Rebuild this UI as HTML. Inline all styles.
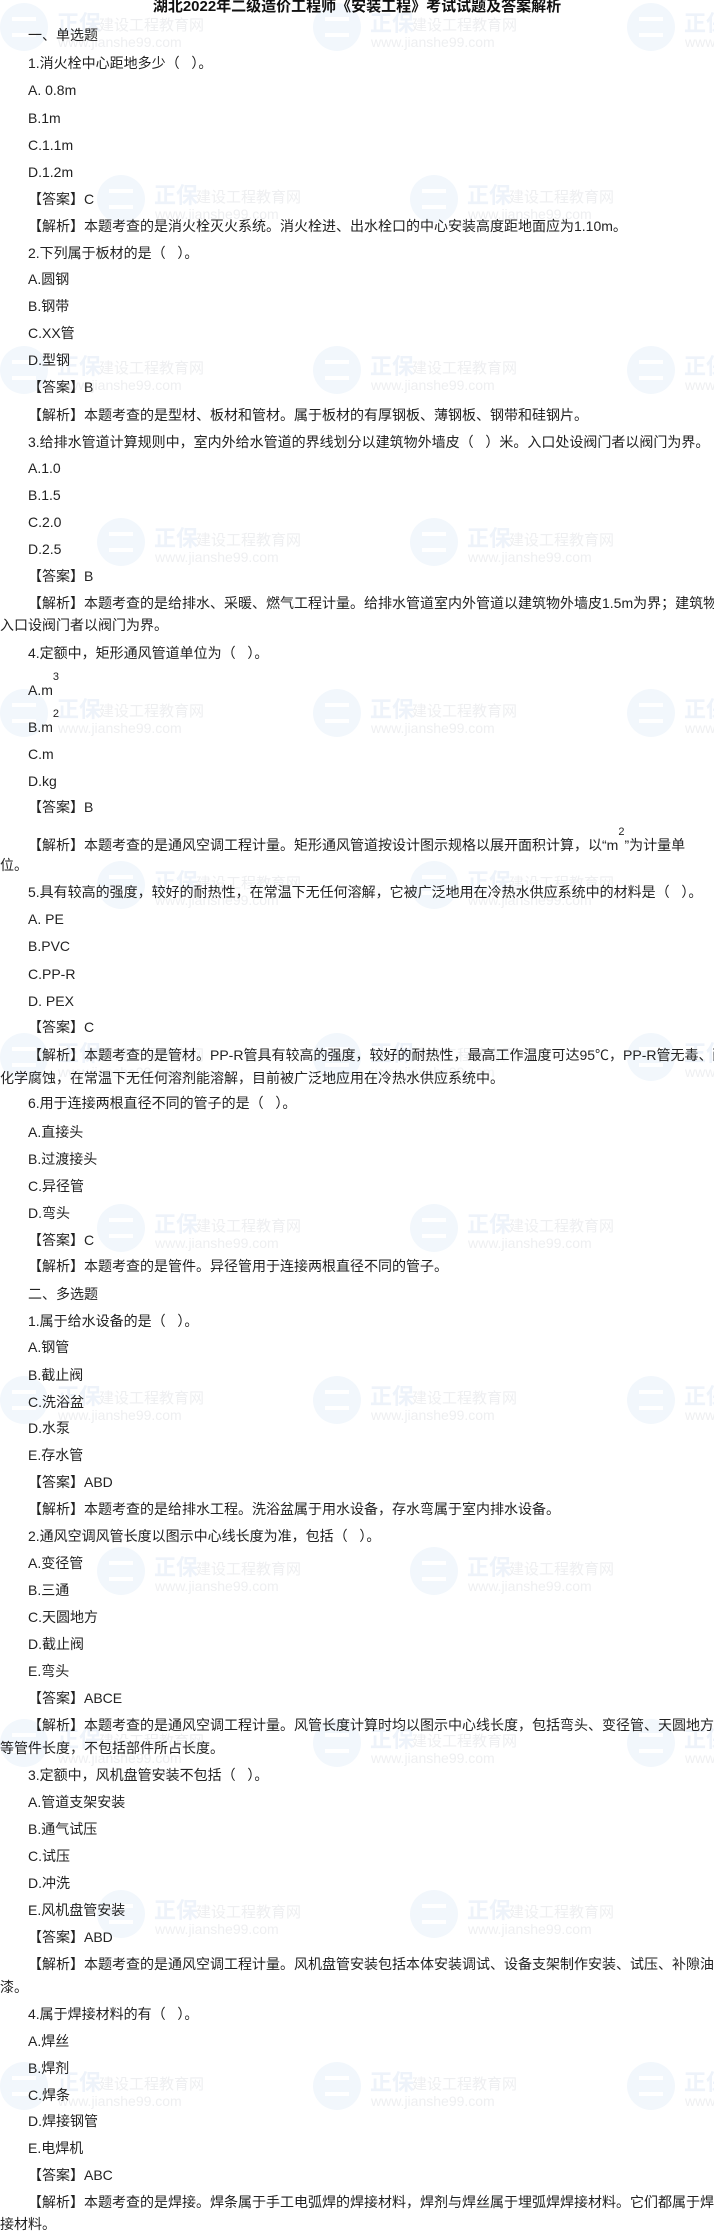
<!DOCTYPE html>
<html><head><meta charset="utf-8"><style>
html,body{margin:0;padding:0;background:#fff}
body{width:714px;height:2229px;position:relative;overflow:hidden;font-family:"Liberation Sans Narrow","Liberation Sans","Noto Sans CJK SC",sans-serif;color:#222}
.w{position:absolute;width:200px;height:50px}
.w i{position:absolute;left:0;top:0;width:48px;height:48px;border-radius:50%;background:#f2f7fc}
.w i:after{content:"";position:absolute;left:12px;top:14px;width:24px;height:20px;border-top:4px solid #fff;border-bottom:4px solid #fff;box-sizing:border-box}
.w b{position:absolute;left:57px;top:3px;font:bold 22px "Noto Sans CJK SC",sans-serif;color:#eef3fa;white-space:nowrap}
.w s{position:absolute;left:99px;top:11px;font:15px "Noto Sans CJK SC",sans-serif;color:#eeeff1;text-decoration:none;white-space:nowrap}
.w u{position:absolute;left:58px;top:31px;font:14px "Liberation Sans",sans-serif;color:#eeeff1;text-decoration:none;white-space:nowrap}
.l{position:absolute;left:28px;height:18px;line-height:18px;font-size:14px;white-space:nowrap;max-width:686px;overflow:hidden}
.c{left:0}
.t{position:absolute;left:0;width:714px;text-align:center;top:-2px;font:bold 15px "Liberation Sans","Noto Sans CJK SC",sans-serif;color:#111;line-height:18px}
sup{font-size:11px;position:relative;top:-4px;vertical-align:top;line-height:0}
</style></head><body>
<div class="w" style="left:0;top:3px"><i></i><b>正保</b><s>建设工程教育网</s><u>www.jianshe99.com</u></div>
<div class="w" style="left:313px;top:3px"><i></i><b>正保</b><s>建设工程教育网</s><u>www.jianshe99.com</u></div>
<div class="w" style="left:627px;top:3px"><i></i><b>正保</b><s>建设工程教育网</s><u>www.jianshe99.com</u></div>
<div class="w" style="left:97px;top:175px"><i></i><b>正保</b><s>建设工程教育网</s><u>www.jianshe99.com</u></div>
<div class="w" style="left:410px;top:175px"><i></i><b>正保</b><s>建设工程教育网</s><u>www.jianshe99.com</u></div>
<div class="w" style="left:0;top:346px"><i></i><b>正保</b><s>建设工程教育网</s><u>www.jianshe99.com</u></div>
<div class="w" style="left:313px;top:346px"><i></i><b>正保</b><s>建设工程教育网</s><u>www.jianshe99.com</u></div>
<div class="w" style="left:627px;top:346px"><i></i><b>正保</b><s>建设工程教育网</s><u>www.jianshe99.com</u></div>
<div class="w" style="left:97px;top:518px"><i></i><b>正保</b><s>建设工程教育网</s><u>www.jianshe99.com</u></div>
<div class="w" style="left:410px;top:518px"><i></i><b>正保</b><s>建设工程教育网</s><u>www.jianshe99.com</u></div>
<div class="w" style="left:0;top:689px"><i></i><b>正保</b><s>建设工程教育网</s><u>www.jianshe99.com</u></div>
<div class="w" style="left:313px;top:689px"><i></i><b>正保</b><s>建设工程教育网</s><u>www.jianshe99.com</u></div>
<div class="w" style="left:627px;top:689px"><i></i><b>正保</b><s>建设工程教育网</s><u>www.jianshe99.com</u></div>
<div class="w" style="left:97px;top:861px"><i></i><b>正保</b><s>建设工程教育网</s><u>www.jianshe99.com</u></div>
<div class="w" style="left:410px;top:861px"><i></i><b>正保</b><s>建设工程教育网</s><u>www.jianshe99.com</u></div>
<div class="w" style="left:0;top:1033px"><i></i><b>正保</b><s>建设工程教育网</s><u>www.jianshe99.com</u></div>
<div class="w" style="left:313px;top:1033px"><i></i><b>正保</b><s>建设工程教育网</s><u>www.jianshe99.com</u></div>
<div class="w" style="left:627px;top:1033px"><i></i><b>正保</b><s>建设工程教育网</s><u>www.jianshe99.com</u></div>
<div class="w" style="left:97px;top:1204px"><i></i><b>正保</b><s>建设工程教育网</s><u>www.jianshe99.com</u></div>
<div class="w" style="left:410px;top:1204px"><i></i><b>正保</b><s>建设工程教育网</s><u>www.jianshe99.com</u></div>
<div class="w" style="left:0;top:1376px"><i></i><b>正保</b><s>建设工程教育网</s><u>www.jianshe99.com</u></div>
<div class="w" style="left:313px;top:1376px"><i></i><b>正保</b><s>建设工程教育网</s><u>www.jianshe99.com</u></div>
<div class="w" style="left:627px;top:1376px"><i></i><b>正保</b><s>建设工程教育网</s><u>www.jianshe99.com</u></div>
<div class="w" style="left:97px;top:1547px"><i></i><b>正保</b><s>建设工程教育网</s><u>www.jianshe99.com</u></div>
<div class="w" style="left:410px;top:1547px"><i></i><b>正保</b><s>建设工程教育网</s><u>www.jianshe99.com</u></div>
<div class="w" style="left:0;top:1719px"><i></i><b>正保</b><s>建设工程教育网</s><u>www.jianshe99.com</u></div>
<div class="w" style="left:313px;top:1719px"><i></i><b>正保</b><s>建设工程教育网</s><u>www.jianshe99.com</u></div>
<div class="w" style="left:627px;top:1719px"><i></i><b>正保</b><s>建设工程教育网</s><u>www.jianshe99.com</u></div>
<div class="w" style="left:97px;top:1890px"><i></i><b>正保</b><s>建设工程教育网</s><u>www.jianshe99.com</u></div>
<div class="w" style="left:410px;top:1890px"><i></i><b>正保</b><s>建设工程教育网</s><u>www.jianshe99.com</u></div>
<div class="w" style="left:0;top:2062px"><i></i><b>正保</b><s>建设工程教育网</s><u>www.jianshe99.com</u></div>
<div class="w" style="left:313px;top:2062px"><i></i><b>正保</b><s>建设工程教育网</s><u>www.jianshe99.com</u></div>
<div class="w" style="left:627px;top:2062px"><i></i><b>正保</b><s>建设工程教育网</s><u>www.jianshe99.com</u></div>

<div class="t">湖北2022年二级造价工程师《安装工程》考试试题及答案解析</div>
<div class="l" style="top:26px">一、单选题</div>
<div class="l" style="top:54px">1.消火栓中心距地多少（&nbsp;&nbsp;&nbsp;）。</div>
<div class="l" style="top:81px">A. 0.8m</div>
<div class="l" style="top:109px">B.1m</div>
<div class="l" style="top:136px">C.1.1m</div>
<div class="l" style="top:163px">D.1.2m</div>
<div class="l" style="top:190px">【答案】C</div>
<div class="l" style="top:217px">【解析】本题考查的是消火栓灭火系统。消火栓进、出水栓口的中心安装高度距地面应为1.10m。</div>
<div class="l" style="top:244px">2.下列属于板材的是（&nbsp;&nbsp;&nbsp;）。</div>
<div class="l" style="top:270px">A.圆钢</div>
<div class="l" style="top:297px">B.钢带</div>
<div class="l" style="top:324px">C.XX管</div>
<div class="l" style="top:351px">D.型钢</div>
<div class="l" style="top:378px">【答案】B</div>
<div class="l" style="top:406px">【解析】本题考查的是型材、板材和管材。属于板材的有厚钢板、薄钢板、钢带和硅钢片。</div>
<div class="l" style="top:433px">3.给排水管道计算规则中，室内外给水管道的界线划分以建筑物外墙皮（&nbsp;&nbsp;&nbsp;）米。入口处设阀门者以阀门为界。</div>
<div class="l" style="top:459px">A.1.0</div>
<div class="l" style="top:486px">B.1.5</div>
<div class="l" style="top:513px">C.2.0</div>
<div class="l" style="top:540px">D.2.5</div>
<div class="l" style="top:567px">【答案】B</div>
<div class="l" style="top:594px">【解析】本题考查的是给排水、采暖、燃气工程计量。给排水管道室内外管道以建筑物外墙皮1.5m为界；建筑物</div>
<div class="l c" style="top:616px">入口设阀门者以阀门为界。</div>
<div class="l" style="top:644px">4.定额中，矩形通风管道单位为（&nbsp;&nbsp;&nbsp;）。</div>
<div class="l" style="top:681px;overflow:visible">A.m<sup>3</sup></div>
<div class="l" style="top:718px;overflow:visible">B.m<sup>2</sup></div>
<div class="l" style="top:745px">C.m</div>
<div class="l" style="top:772px">D.kg</div>
<div class="l" style="top:798px">【答案】B</div>
<div class="l" style="top:836px;overflow:visible">【解析】本题考查的是通风空调工程计量。矩形通风管道按设计图示规格以展开面积计算，以“m<sup>2</sup>”为计量单</div>
<div class="l c" style="top:856px">位。</div>
<div class="l" style="top:883px">5.具有较高的强度，较好的耐热性，在常温下无任何溶解，它被广泛地用在冷热水供应系统中的材料是（&nbsp;&nbsp;&nbsp;）。</div>
<div class="l" style="top:910px">A. PE</div>
<div class="l" style="top:937px">B.PVC</div>
<div class="l" style="top:965px">C.PP-R</div>
<div class="l" style="top:992px">D. PEX</div>
<div class="l" style="top:1018px">【答案】C</div>
<div class="l" style="top:1046px">【解析】本题考查的是管材。PP-R管具有较高的强度，较好的耐热性，最高工作温度可达95℃，PP-R管无毒、耐</div>
<div class="l c" style="top:1069px">化学腐蚀，在常温下无任何溶剂能溶解，目前被广泛地应用在冷热水供应系统中。</div>
<div class="l" style="top:1094px">6.用于连接两根直径不同的管子的是（&nbsp;&nbsp;&nbsp;）。</div>
<div class="l" style="top:1123px">A.直接头</div>
<div class="l" style="top:1150px">B.过渡接头</div>
<div class="l" style="top:1177px">C.异径管</div>
<div class="l" style="top:1204px">D.弯头</div>
<div class="l" style="top:1231px">【答案】C</div>
<div class="l" style="top:1257px">【解析】本题考查的是管件。异径管用于连接两根直径不同的管子。</div>
<div class="l" style="top:1285px">二、多选题</div>
<div class="l" style="top:1312px">1.属于给水设备的是（&nbsp;&nbsp;&nbsp;）。</div>
<div class="l" style="top:1338px">A.钢管</div>
<div class="l" style="top:1366px">B.截止阀</div>
<div class="l" style="top:1393px">C.洗浴盆</div>
<div class="l" style="top:1419px">D.水泵</div>
<div class="l" style="top:1446px">E.存水管</div>
<div class="l" style="top:1473px">【答案】ABD</div>
<div class="l" style="top:1500px">【解析】本题考查的是给排水工程。洗浴盆属于用水设备，存水弯属于室内排水设备。</div>
<div class="l" style="top:1527px">2.通风空调风管长度以图示中心线长度为准，包括（&nbsp;&nbsp;&nbsp;）。</div>
<div class="l" style="top:1554px">A.变径管</div>
<div class="l" style="top:1581px">B.三通</div>
<div class="l" style="top:1608px">C.天圆地方</div>
<div class="l" style="top:1635px">D.截止阀</div>
<div class="l" style="top:1662px">E.弯头</div>
<div class="l" style="top:1689px">【答案】ABCE</div>
<div class="l" style="top:1716px">【解析】本题考查的是通风空调工程计量。风管长度计算时均以图示中心线长度，包括弯头、变径管、天圆地方</div>
<div class="l c" style="top:1739px">等管件长度，不包括部件所占长度。</div>
<div class="l" style="top:1766px">3.定额中，风机盘管安装不包括（&nbsp;&nbsp;&nbsp;）。</div>
<div class="l" style="top:1793px">A.管道支架安装</div>
<div class="l" style="top:1820px">B.通气试压</div>
<div class="l" style="top:1847px">C.试压</div>
<div class="l" style="top:1874px">D.冲洗</div>
<div class="l" style="top:1901px">E.风机盘管安装</div>
<div class="l" style="top:1928px">【答案】ABD</div>
<div class="l" style="top:1955px">【解析】本题考查的是通风空调工程计量。风机盘管安装包括本体安装调试、设备支架制作安装、试压、补隙油</div>
<div class="l c" style="top:1978px">漆。</div>
<div class="l" style="top:2005px">4.属于焊接材料的有（&nbsp;&nbsp;&nbsp;）。</div>
<div class="l" style="top:2032px">A.焊丝</div>
<div class="l" style="top:2059px">B.焊剂</div>
<div class="l" style="top:2086px">C.焊条</div>
<div class="l" style="top:2112px">D.焊接钢管</div>
<div class="l" style="top:2139px">E.电焊机</div>
<div class="l" style="top:2166px">【答案】ABC</div>
<div class="l" style="top:2193px">【解析】本题考查的是焊接。焊条属于手工电弧焊的焊接材料，焊剂与焊丝属于埋弧焊焊接材料。它们都属于焊</div>
<div class="l c" style="top:2215px">接材料。</div>
</body></html>
